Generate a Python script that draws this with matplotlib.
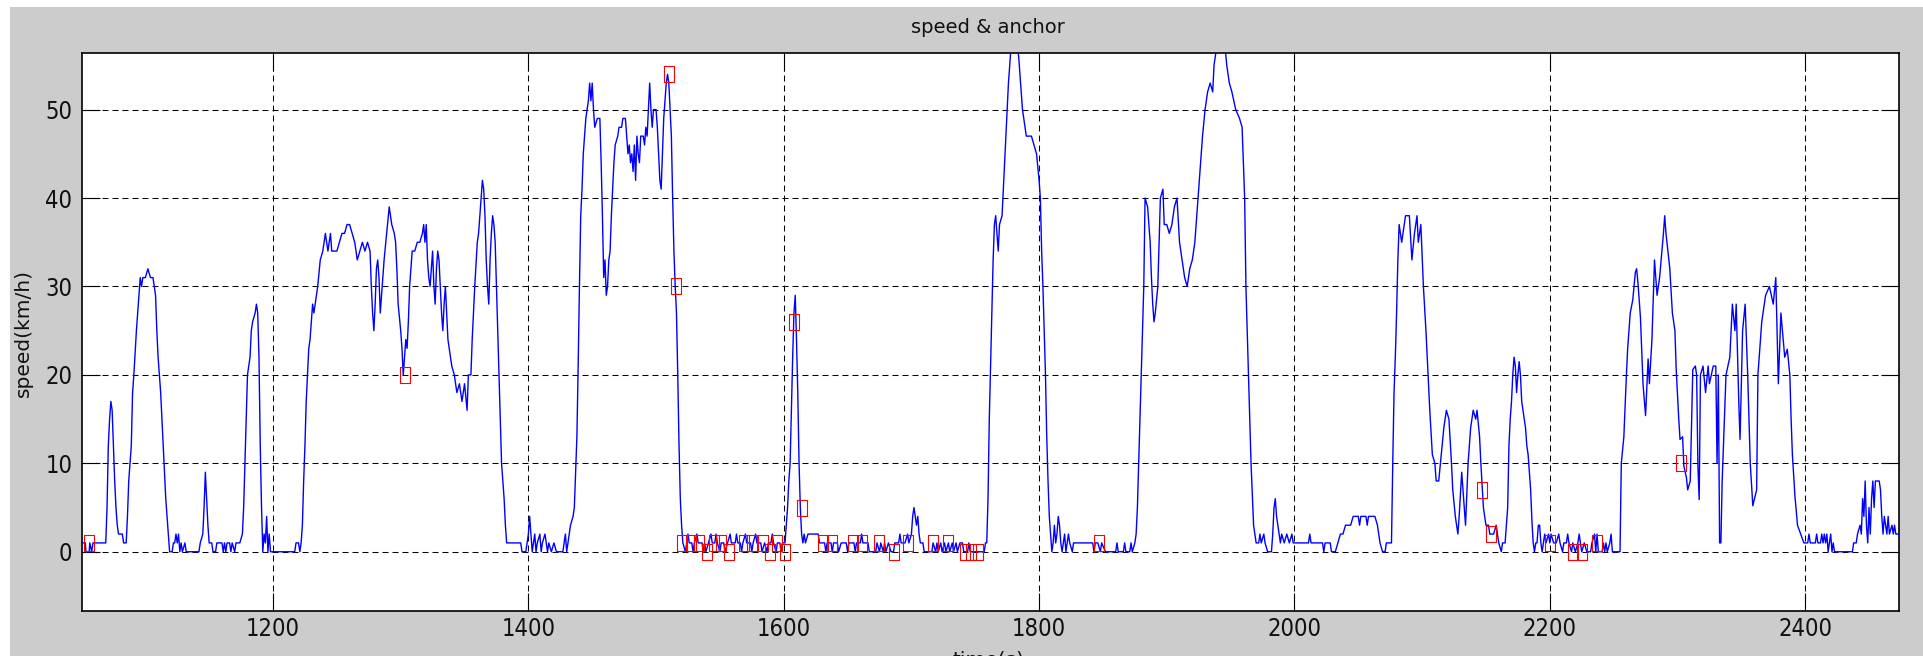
import matplotlib
matplotlib.use("Agg")
import matplotlib.pyplot as plt
import numpy as np
from matplotlib import font_manager
from matplotlib.patches import Rectangle
from matplotlib.path import Path

# speed trace as (time s, speed km/h) vertices
trip_1050 = [
    (1050, 1), (1053, 1), (1053.5, 0), (1056, 0), (1056.5, 1), (1058, 0), (1059, 1), (1069, 1),
    (1070, 5), (1071, 12), (1072, 15), (1073, 17), (1074, 16), (1075, 12), (1076, 8), (1077, 5),
    (1078, 3), (1079, 2), (1082, 2), (1083, 1), (1085, 1), (1086, 4), (1087, 8), (1088, 10),
    (1089, 12), (1090, 18), (1091, 20), (1093, 25), (1095, 29), (1096, 31), (1097, 30), (1098, 31),
    (1100, 31), (1102, 32), (1104, 31), (1106, 31), (1107, 30), (1108, 29), (1109, 25), (1110, 22),
    (1112, 18), (1113, 15), (1114, 12), (1115, 9), (1116, 6), (1117, 4), (1118, 2), (1119, 0),
    (1121, 0), (1122, 1), (1123, 1), (1124, 2), (1125, 1), (1126, 2), (1127, 0), (1128, 1),
    (1129, 0), (1131, 1), (1132, 0), (1142, 0), (1143, 1), (1145, 2), (1146, 5), (1147, 9),
    (1148, 6), (1149, 3), (1150, 1), (1152, 1), (1153, 0), (1155, 0), (1156, 1), (1160, 1),
    (1161, 0), (1162, 1), (1163, 0), (1164, 1), (1166, 1), (1167, 0), (1168, 1), (1170, 0),
    (1171, 1), (1174, 1), (1176, 2), (1177, 5), (1178, 10), (1179, 15), (1180, 20), (1182, 22),
    (1183, 25), (1184, 26), (1186, 27), (1187, 28), (1188, 27), (1189, 22), (1190, 12), (1191, 5),
    (1192, 0), (1193, 2), (1194, 1), (1195, 4), (1196, 0), (1197, 2), (1198, 0), (1217, 0),
    (1218, 1), (1220, 1), (1221, 0), (1222, 1), (1223, 3), (1224, 8), (1225, 12), (1226, 17),
    (1227, 20), (1228, 23),
]
trip_1229 = [
    (1229, 24), (1230, 26), (1231, 28), (1232, 27), (1233, 28), (1235, 30), (1237, 33), (1239, 34),
    (1241, 36), (1242, 35), (1243, 34), (1245, 36), (1246, 34), (1250, 34), (1252, 35), (1254, 36),
    (1256, 36), (1258, 37), (1260, 37), (1262, 36), (1264, 35), (1265, 34), (1266, 33), (1268, 34),
    (1270, 35), (1272, 34), (1274, 35), (1276, 34), (1277, 30), (1278, 27), (1279, 25), (1280, 28),
    (1281, 32), (1282, 33), (1283, 31), (1284, 27), (1285, 29), (1287, 33), (1289, 36), (1291, 39),
    (1292, 38), (1293, 37), (1295, 36), (1296, 35), (1297, 32), (1298, 28), (1300, 25), (1301, 23),
    (1302, 20), (1303, 22), (1304, 24), (1305, 23), (1306, 26), (1307, 30), (1309, 34), (1311, 34),
    (1313, 35), (1315, 35), (1317, 36), (1318, 37), (1319, 35), (1320, 37), (1321, 33), (1322, 31),
    (1323, 30), (1324, 32), (1325, 34), (1326, 30), (1327, 28), (1328, 32), (1329, 34), (1330, 33),
    (1331, 30), (1332, 27), (1333, 25), (1334, 28), (1335, 30), (1336, 27), (1337, 24), (1340, 21),
    (1342, 20), (1344, 18), (1346, 19), (1348, 17), (1350, 19), (1352, 16), (1353, 20), (1355, 20),
    (1356, 24), (1358, 30), (1360, 35), (1361, 36), (1362, 38), (1363, 40), (1364, 42), (1365, 41),
    (1366, 38), (1367, 33), (1368, 30), (1369, 28), (1370, 33), (1371, 36), (1372, 38), (1373, 37),
    (1374, 35), (1375, 30), (1376, 25), (1377, 20), (1378, 15), (1379, 10), (1381, 6), (1382, 3),
    (1383, 1),
]
trip_1394 = [
    (1394, 1), (1395, 0), (1398, 0), (1399, 1), (1400, 2), (1401, 4), (1402, 2), (1403, 0),
    (1404, 1), (1405, 2), (1406, 0), (1407, 1), (1409, 2), (1410, 0), (1411, 1), (1413, 2),
    (1414, 1), (1415, 0), (1416, 1), (1418, 0), (1420, 1), (1422, 0), (1427, 0), (1428, 1),
    (1429, 2), (1430, 0), (1431, 1), (1432, 2), (1433, 3), (1435, 4), (1436, 5), (1437, 9),
    (1438, 13), (1439, 21), (1440, 30), (1441, 38), (1442, 41), (1443, 45), (1445, 49), (1447, 51),
    (1448, 53), (1449, 51), (1450, 53), (1451, 50), (1452, 48), (1454, 49), (1456, 49), (1457, 44),
    (1458, 38), (1459, 31), (1460, 33), (1461, 29), (1462, 30), (1463, 33), (1464, 34), (1465, 38),
    (1466, 41), (1467, 44), (1468, 46), (1470, 47), (1471, 48), (1473, 48), (1474, 49), (1476, 49),
    (1477, 47), (1478, 45), (1479, 46), (1480, 44), (1481, 45), (1482, 43), (1483, 46), (1484, 42),
    (1485, 47), (1486, 45), (1487, 44), (1488, 47), (1490, 47), (1491, 46), (1492, 48), (1493, 47),
    (1494, 50), (1495, 53), (1496, 50), (1497, 48), (1498, 50), (1500, 50), (1501, 48), (1502, 45),
    (1503, 42), (1504, 41), (1505, 45), (1506, 49), (1507, 51), (1508, 53), (1509, 54), (1510, 53),
    (1511, 50), (1512, 47), (1513, 40), (1514, 34), (1515, 30), (1516, 27), (1517, 20), (1518, 12),
    (1519, 6), (1520, 3),
]
trip_1521 = [
    (1521, 1), (1523, 0), (1524, 1), (1525, 2), (1526, 1), (1528, 1), (1529, 0), (1530, 1),
    (1532, 2), (1533, 1), (1536, 1), (1537, 0), (1538, 1), (1539, 0), (1541, 1), (1543, 2),
    (1544, 1), (1546, 1), (1547, 2), (1548, 1), (1550, 0), (1551, 1), (1553, 1), (1554, 0),
    (1556, 1), (1558, 2), (1559, 1), (1562, 1), (1563, 2), (1564, 1), (1566, 1), (1567, 0),
    (1568, 1), (1570, 2), (1571, 1), (1574, 1), (1575, 0), (1576, 1), (1578, 2), (1579, 1),
    (1582, 1), (1583, 0), (1585, 1), (1587, 0), (1588, 1), (1590, 1), (1591, 2), (1592, 1),
    (1594, 0), (1595, 1), (1597, 1), (1598, 0), (1599, 1), (1601, 1), (1602, 3), (1603, 5),
    (1604, 8), (1605, 10), (1606, 16), (1607, 22), (1608, 27), (1609, 29), (1610, 24), (1611, 18),
    (1612, 10), (1613, 5), (1614, 2), (1615, 1), (1616, 2), (1617, 1), (1619, 2), (1627, 2),
    (1628, 1), (1632, 1), (1633, 0), (1634, 1), (1637, 1), (1638, 0), (1639, 1), (1642, 1),
    (1643, 0), (1645, 1), (1649, 1), (1650, 0), (1651, 1), (1655, 1), (1656, 0), (1657, 1),
    (1660, 1), (1661, 2), (1662, 1), (1666, 1), (1667, 0), (1672, 0), (1673, 1), (1675, 0),
    (1676, 1), (1678, 0), (1679, 1), (1680, 0), (1682, 1), (1684, 0), (1686, 0), (1687, 1),
    (1690, 1), (1691, 2), (1692, 1), (1695, 1), (1697, 2), (1698, 1), (1700, 2), (1701, 4),
    (1702, 5), (1703, 4), (1704, 3), (1705, 4), (1706, 2), (1707, 1), (1709, 1), (1710, 0),
    (1716, 0), (1717, 1), (1719, 0), (1720, 1), (1721, 0), (1723, 1), (1724, 0), (1726, 1),
    (1727, 0), (1729, 1), (1730, 0), (1732, 1), (1733, 0), (1735, 1), (1736, 0), (1738, 1),
    (1740, 1), (1741, 0), (1744, 0), (1745, 1), (1746, 0), (1757, 0), (1758, 1), (1759, 1),
]
trip_1760 = [
    (1760, 6), (1761, 15), (1762, 21), (1763, 27), (1764, 33), (1765, 37), (1766, 38), (1767, 36),
    (1768, 34), (1769, 37), (1771, 38), (1772, 41), (1773, 44), (1774, 47), (1775, 50), (1776, 53),
    (1777, 55), (1778, 57), (1779, 58), (1781, 58), (1783, 57), (1784, 56), (1785, 54), (1786, 52),
    (1787, 50), (1789, 48), (1790, 47), (1794, 47), (1796, 46), (1798, 45), (1800, 42), (1801, 40),
    (1802, 34), (1803, 30), (1804, 25), (1805, 20), (1806, 13), (1807, 8), (1808, 4), (1809, 2),
    (1810, 0), (1811, 1), (1812, 3), (1813, 1), (1814, 2), (1815, 4), (1816, 3), (1817, 1),
    (1818, 0), (1819, 1), (1820, 2), (1821, 0), (1822, 1), (1823, 2), (1824, 1), (1826, 0),
    (1827, 1), (1842, 1), (1843, 0), (1844, 1), (1846, 1), (1848, 0), (1849, 1), (1852, 0),
    (1860, 0), (1861, 1), (1862, 0), (1866, 0), (1867, 1), (1868, 0), (1871, 0), (1872, 1),
    (1873, 0), (1875, 1), (1876, 2), (1877, 5), (1878, 10), (1879, 15), (1880, 20), (1881, 25),
]
trip_1882 = [
    (1882, 30), (1883, 40), (1885, 39), (1887, 35), (1888, 31), (1889, 28), (1890, 26), (1891, 27),
    (1893, 30), (1895, 40), (1897, 41), (1898, 37), (1900, 37), (1902, 36), (1904, 37), (1906, 39),
    (1908, 40), (1910, 35), (1912, 33), (1914, 31), (1916, 30), (1918, 32), (1920, 33), (1922, 35),
    (1925, 41), (1926, 43), (1928, 47), (1930, 50), (1932, 52), (1934, 53), (1936, 52), (1937, 55),
    (1939, 57), (1941, 58), (1943, 57), (1945, 58), (1947, 55), (1949, 53), (1951, 52), (1954, 50),
    (1957, 49), (1959, 48), (1961, 40), (1962, 30), (1963, 25), (1964, 20), (1966, 10), (1968, 3),
    (1970, 1), (1972, 1), (1973, 2), (1974, 1), (1976, 2), (1977, 1), (1979, 0), (1982, 0),
    (1983, 2), (1984, 5), (1985, 6), (1986, 4), (1988, 2), (1989, 1), (1990, 2), (1992, 1),
    (1994, 2), (1996, 1), (1998, 2), (1999, 1), (2011, 1), (2012, 2), (2013, 1), (2022, 1),
    (2023, 0), (2024, 1), (2028, 1), (2029, 0), (2032, 0), (2034, 1), (2036, 2), (2038, 2),
    (2040, 3), (2044, 3), (2046, 4), (2050, 4), (2051, 3), (2052, 4), (2056, 4), (2057, 3),
    (2058, 4), (2063, 4), (2065, 3), (2067, 1), (2069, 0), (2071, 0), (2072, 1), (2076, 1),
]
trip_2077 = [
    (2077, 10), (2078, 18), (2079, 22), (2080, 27), (2081, 33), (2082, 37), (2084, 35), (2086, 37),
    (2087, 38), (2090, 38), (2092, 33), (2094, 36), (2096, 38), (2097, 35), (2099, 37), (2101, 30),
    (2103, 25), (2104, 22), (2106, 16), (2108, 11), (2110, 10), (2111, 8), (2113, 8), (2115, 11),
    (2117, 14), (2119, 16), (2121, 15), (2123, 10), (2124, 7), (2126, 4), (2128, 2), (2129, 4),
    (2131, 9), (2133, 5), (2134, 3), (2136, 10), (2138, 14), (2140, 16), (2142, 15), (2143, 16),
    (2145, 13), (2146, 10), (2148, 5), (2150, 3), (2152, 3), (2153, 2), (2156, 2), (2158, 3),
    (2160, 1), (2162, 0), (2163, 1), (2165, 1), (2166, 3), (2167, 5), (2168, 12), (2169, 15),
    (2170, 17), (2171, 20), (2172, 22), (2173, 21), (2174, 18), (2175, 20), (2176, 21.5), (2177, 20),
    (2178, 17), (2180, 15), (2181, 14), (2182, 12), (2183, 11), (2184, 9), (2185, 7), (2186, 3.5),
    (2187, 1), (2188, 0), (2189, 1), (2190, 1), (2191, 3), (2192, 3), (2193, 1), (2194, 0),
    (2195, 1), (2196, 2), (2197, 1), (2199, 2),
]
trip_2200 = [
    (2200, 1), (2201, 2), (2203, 1), (2205, 1), (2207, 2), (2208, 1), (2210, 0), (2211, 1),
    (2213, 1), (2214, 2), (2215, 1), (2217, 0), (2218, 1), (2220, 0), (2222, 1), (2223, 2),
    (2224, 1), (2225, 0), (2227, 1), (2229, 0), (2232, 0), (2233, 1), (2235, 2), (2236, 0),
    (2237, 2), (2238, 0), (2241, 0), (2242, 1), (2243, 0), (2244, 1), (2245, 0), (2247, 1),
    (2248, 2), (2249, 0), (2255, 0), (2256, 10), (2258, 13), (2260, 20), (2261, 23), (2263, 27),
    (2265, 28.5), (2267, 31.6), (2268, 32), (2269, 30.5), (2271, 26.5), (2273, 19), (2275, 15.4), (2277, 21.8),
    (2278, 19), (2280, 24), (2282, 33), (2284, 29), (2286, 31), (2289, 36), (2290, 38), (2291, 36),
    (2294, 32), (2296, 27), (2298, 25), (2299, 20.6), (2301, 15), (2302, 12.7), (2304, 13), (2305, 9.7),
    (2307, 8.4), (2308, 7), (2310, 8), (2312, 20.6), (2314, 21), (2315, 20), (2316, 9.7), (2317, 5.9),
    (2318, 20), (2320, 21), (2322, 18), (2324, 21), (2325, 19), (2328, 21), (2330, 21), (2331, 10),
    (2332, 20), (2333, 1), (2334, 1), (2335, 8), (2338, 20), (2341, 22), (2343, 28), (2345, 25),
    (2346, 28), (2348, 17), (2349, 12.7), (2351, 25), (2353, 28), (2355, 20), (2357, 10), (2359, 5.2),
    (2362, 7), (2363, 20), (2366, 26), (2369, 29), (2372, 30), (2375, 28), (2377, 31), (2379, 19),
    (2381, 27), (2384, 22), (2386, 22.9), (2388, 20), (2389, 15), (2390, 11), (2392, 6.3), (2394, 3),
    (2397, 1.8), (2399, 1),
]
trip_2400 = [
    (2402, 1), (2403, 2), (2404, 1), (2408, 1), (2409, 2), (2410, 1), (2412, 1), (2413, 2),
    (2414, 1), (2415, 2), (2416, 1), (2417, 2), (2418, 0), (2419, 1), (2420, 2), (2421, 0),
    (2422, 1), (2423, 0), (2437, 0), (2438, 1), (2440, 1), (2441, 2), (2443, 3), (2444, 2),
    (2445, 6), (2446, 4), (2447, 8), (2448, 3), (2449, 1), (2450, 5), (2451, 2), (2452, 6),
    (2453, 8), (2454, 5), (2455, 8), (2458, 8), (2459, 7), (2460, 4), (2461, 2), (2462, 4),
    (2463, 3), (2464, 2), (2465, 4), (2466, 2), (2468, 3), (2469, 2), (2470, 3), (2471, 2),
    (2473, 2),
]

anchor_t = [1056, 1303, 1510, 1516, 1520, 1527, 1534, 1540, 1545, 1551, 1557, 1569, 1575, 1584,
            1589, 1595, 1601, 1608, 1614, 1631, 1638, 1654, 1661, 1675, 1686, 1697, 1717, 1729,
            1742, 1747, 1752, 1847, 2147, 2154, 2200, 2218, 2225, 2237, 2303]
anchor_v = [1, 20, 54, 30, 1, 1, 1, 0, 1, 1, 0, 1, 1, 1,
            0, 1, 0, 26, 5, 1, 1, 1, 1, 1, 0, 1, 1, 1,
            0, 0, 0, 1, 7, 2, 1, 0, 0, 1, 10]

x_ticks = [1200, 1400, 1600, 1800, 2000, 2200, 2400]
y_ticks = [0, 10, 20, 30, 40, 50]

W, H = 1923, 656
plt.rcParams["lines.scale_dashes"] = False

# narrow face for the tick numbers if the box has one
fonts = font_manager.fontManager.ttflist
names = {f.name for f in fonts}
tick_font = {"family": "Liberation Sans", "size": 17}
if "Liberation Sans Narrow" in names:
    tick_font = {"family": "Liberation Sans Narrow", "size": 18.5}
elif any(f.name == "DejaVu Sans" and str(f.stretch) in ("condensed", "semi-condensed") for f in fonts):
    tick_font = {"family": "DejaVu Sans", "stretch": "condensed", "size": 17}

trace = np.array(trip_1050 + trip_1229 + trip_1394 + trip_1521 + trip_1760
                 + trip_1882 + trip_2077 + trip_2200 + trip_2400, dtype=float)

fig = plt.figure(figsize=(W / 100, H / 100), dpi=100)
fig.patch.set_facecolor("white")
fig.patches.append(Rectangle((10 / W, 0), 1, 1 - 7 / H, transform=fig.transFigure,
                             facecolor="#cccccc", edgecolor="none", zorder=-10))

ax = fig.add_axes([81.5 / W, 1 - 611 / H, (1899 - 81.5) / W, (611 - 53) / H])
ax.set_facecolor("white")
ax.plot(trace[:, 0], trace[:, 1], color="#0000ff", lw=1.0, zorder=3)

rect = Path([(-0.3, -0.5), (0.3, -0.5), (0.3, 0.5), (-0.3, 0.5), (-0.3, -0.5)],
            [Path.MOVETO, Path.LINETO, Path.LINETO, Path.LINETO, Path.CLOSEPOLY])
ax.plot(anchor_t, anchor_v, ls="none", marker=rect, ms=12, mfc="none",
        mec="#ff0000", mew=0.8, zorder=4)

ax.set_xlim(1050, 2473.5)
ax.set_ylim(-6.7, 56.4)
ax.set_xticks(x_ticks)
ax.set_yticks(y_ticks)
ax.grid(True, color="black", linestyle=(0, (4.3, 2.9)), linewidth=0.75)
ax.set_axisbelow(True)
ax.tick_params(direction="in", length=13, width=0.8, top=True, right=True, colors="black")
ax.tick_params(axis="x", pad=4.3)
ax.tick_params(axis="y", pad=6.5)
for lab in ax.get_xticklabels() + ax.get_yticklabels():
    lab.set_fontproperties(font_manager.FontProperties(**tick_font))
    lab.set_color("#111111")
for sp in ax.spines.values():
    sp.set_linewidth(1.2)
    sp.set_color("black")

fig.text(988 / W, 1 - 33 / H, "speed & anchor", ha="center", va="baseline",
         fontsize=14, family="DejaVu Sans", color="#111111")
fig.text(23 / W, 1 - 333 / H, "speed(km/h)", rotation=90, ha="center", va="center",
         fontsize=14.5, family="DejaVu Sans", color="#111111")
# the x label sits at the bottom edge and is mostly cut off, as in the original
fig.text(988 / W, 1 - 650 / H, "time(s)", ha="center", va="top",
         fontsize=14.5, family="DejaVu Sans", color="#111111")

fig.savefig("out.png", dpi=100, facecolor=fig.get_facecolor())
